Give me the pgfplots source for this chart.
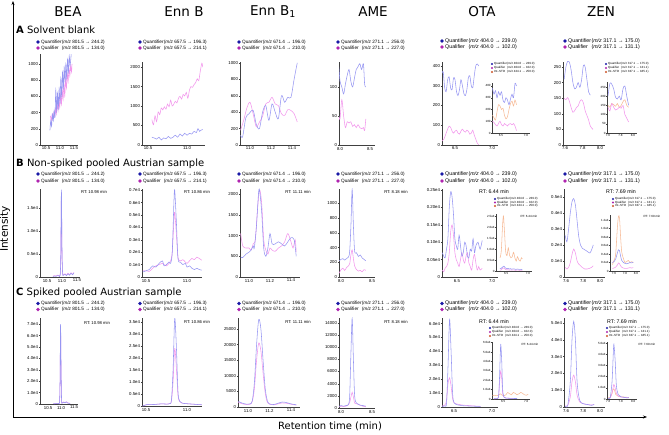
\documentclass[border=0pt]{standalone}
\usepackage{pgfplots}
\pgfplotsset{compat=1.18}
\usepackage{fontspec}
\setmainfont{Liberation Sans}
\newfontfamily\dejavu{DejaVu Sans}
\usetikzlibrary{arrows.meta}
\definecolor{colQline}{RGB}{150,150,242}
\definecolor{colLline}{RGB}{242,150,236}
\definecolor{colIline}{RGB}{246,186,150}
\definecolor{colQdot}{RGB}{25,25,165}
\definecolor{colLdot}{RGB}{175,35,175}
\definecolor{colIdot}{RGB}{205,85,40}
\newcommand\lgf{\fontsize{4.7}{5}\selectfont}
\newcommand\lgfb{\fontsize{5.3}{6}\selectfont}
\newcommand\ilgf{\fontsize{3}{3.2}\selectfont}
\newcommand\rtf{\fontsize{4.2}{5}\selectfont}
\newcommand\legtwo[6][\lgf]{%
  \fill[colQdot] (#2,#3) circle (1.8pt);
  \fill[colLdot] (#2,#4) circle (1.8pt);
  \node[anchor=west,inner sep=0,font=#1] at (#2+3,#3) {\makebox[4.4em][l]{Quantifier}(\textit{m/z} #5)};
  \node[anchor=west,inner sep=0,font=#1] at (#2+3,#4) {\makebox[4.4em][l]{Qualifier}(\textit{m/z} #6)};}
\newcommand\legthree[7]{%
  \fill[colQdot] (#1,#2) circle (1.1pt);
  \fill[colLdot] (#1,#3) circle (1.1pt);
  \fill[colIdot] (#1,#4) circle (1.1pt);
  \node[anchor=west,inner sep=0,font=\ilgf] at (#1+1.8,#2) {\makebox[4.4em][l]{Quantifier}(\textit{m/z} #5)};
  \node[anchor=west,inner sep=0,font=\ilgf] at (#1+1.8,#3) {\makebox[4.4em][l]{Qualifier}(\textit{m/z} #6)};
  \node[anchor=west,inner sep=0,font=\ilgf] at (#1+1.8,#4) {\makebox[4.4em][l]{Int.-STD}(\textit{m/z} #7)};}
\pgfplotsset{
 chrom/.style={scale only axis, anchor=south west, enlargelimits=false,
   axis x line*=bottom, axis y line*=left,
   axis line style={black!75, line width=0.4pt},
   tick style={black!75, line width=0.3pt},
   major tick length=1.2pt, tick align=outside,
   ticklabel style={font=\fontsize{4.3}{4.5}\selectfont, inner sep=0.6pt},
   /pgf/number format/assume math mode=true,
   /pgf/number format/1000 sep={},
   scaled ticks=false,
   xticklabel style={/pgf/number format/.cd, fixed, fixed zerofill, precision=1},
   clip=true},
 inset/.style={chrom, ticklabel style={font=\fontsize{3}{3.2}\selectfont, inner sep=0.4pt}, major tick length=0.8pt},
 Q/.style={colQline, line width=0.55pt, smooth, tension=0.5},
 L/.style={colLline, line width=0.55pt, smooth, tension=0.5},
 I/.style={colIline, line width=0.55pt, smooth, tension=0.5},
}
\begin{document}
\begin{tikzpicture}[x=1pt,y=1pt]
\useasboundingbox (0,0) rectangle (669,434);
% frame
\draw[line width=0.7pt,-{Stealth[length=4pt,width=3pt]}] (13,17) -- (13,433);
\draw[line width=0.7pt,-{Stealth[length=4pt,width=3pt]}] (13,17) -- (647,17);
\node[rotate=90,font=\dejavu\fontsize{10.5}{11}\selectfont] at (5,205) {Intensity};
\node[font=\dejavu\fontsize{10}{11}\selectfont] at (330,8) {Retention time (min)};
% titles
\node[font=\dejavu\fontsize{13.5}{14}\selectfont] at (68,422) {BEA};
\node[font=\dejavu\fontsize{13.5}{14}\selectfont] at (184,422) {Enn B};
\node[font=\dejavu\fontsize{13.5}{14}\selectfont] at (273,422) {Enn B\textsubscript{1}};
\node[font=\dejavu\fontsize{13.5}{14}\selectfont] at (373,422) {AME};
\node[font=\dejavu\fontsize{13.5}{14}\selectfont] at (482,422) {OTA};
\node[font=\dejavu\fontsize{13.5}{14}\selectfont] at (601,422) {ZEN};
% row labels
\node[anchor=west,inner sep=0,font=\dejavu\fontsize{10}{11}\selectfont] at (16,404) {\textbf{A} Solvent blank};
\node[anchor=west,inner sep=0,font=\dejavu\fontsize{10}{11}\selectfont] at (16,270) {\textbf{B} Non-spiked pooled Austrian sample};
\node[anchor=west,inner sep=0,font=\dejavu\fontsize{10}{11}\selectfont] at (16,141) {\textbf{C} Spiked pooled Austrian sample};
% legends row A
\legtwo{38}{392}{386}{801.5 → 244.2}{801.5 → 134.0}
\legtwo{140}{392}{386}{657.5 → 196.3}{657.5 → 214.1}
\legtwo{239}{392}{386}{671.4 → 196.0}{671.4 → 210.0}
\legtwo{338}{392}{386}{271.1 → 256.0}{271.1 → 227.0}
\legtwo[\lgfb]{442}{393}{387}{404.0 → 239.0}{404.0 → 102.0}
\legtwo[\lgfb]{565}{393}{387}{317.1 → 175.0}{317.1 → 131.1}
\legthree{492}{370}{366}{362}{404.0 → 239.0}{404.0 → 102.0}{424.1 → 250.0}
\legthree{606}{370}{366}{362}{317.1 → 175.0}{317.1 → 131.1}{337.1 → 185.1}
% legends row B
\legtwo{38}{260}{253}{801.5 → 244.2}{801.5 → 134.0}
\legtwo{140}{260}{253}{657.5 → 196.3}{657.5 → 214.1}
\legtwo{239}{260}{253}{671.4 → 196.0}{671.4 → 210.0}
\legtwo{338}{260}{253}{271.1 → 256.0}{271.1 → 227.0}
\legtwo[\lgfb]{442}{260}{253}{404.0 → 239.0}{404.0 → 102.0}
\legtwo[\lgfb]{565}{260}{253}{317.1 → 175.0}{317.1 → 131.1}
\legthree{495}{235}{231.5}{228}{404.0 → 239.0}{404.0 → 102.0}{424.1 → 250.0}
\legthree{613}{235}{231.5}{228}{317.1 → 175.0}{317.1 → 131.1}{337.1 → 185.1}
% legends row C
\legtwo{38}{130.5}{124.5}{801.5 → 244.2}{801.5 → 134.0}
\legtwo{140}{130.5}{124.5}{657.5 → 196.3}{657.5 → 214.1}
\legtwo{239}{130.5}{124.5}{671.4 → 196.0}{671.4 → 210.0}
\legtwo{338}{130.5}{124.5}{271.1 → 256.0}{271.1 → 227.0}
\legtwo[\lgfb]{442}{130.5}{124.5}{404.0 → 239.0}{404.0 → 102.0}
\legtwo[\lgfb]{565}{130.5}{124.5}{317.1 → 175.0}{317.1 → 131.1}
\legthree{490}{106}{102}{98}{404.0 → 239.0}{404.0 → 102.0}{424.1 → 250.0}
\legthree{607}{106}{102}{98}{317.1 → 175.0}{317.1 → 131.1}{337.1 → 185.1}
% RT labels
\node[font=\rtf] at (94,242) {RT: 10.98 min};
\node[font=\rtf] at (197,242) {RT: 10.86 min};
\node[font=\rtf] at (298,242) {RT: 11.11 min};
\node[font=\rtf] at (396,242) {RT: 8.18 min};
\node[font=\fontsize{5.3}{6}\selectfont] at (494,242) {RT: 6.44 min};
\node[font=\fontsize{5.3}{6}\selectfont] at (621,242) {RT: 7.69 min};
\node[font=\ilgf] at (529,218) {RT: 6.44 min};
\node[font=\ilgf] at (652,218) {RT: 7.69 min};
\node[font=\rtf] at (97,111) {RT: 10.98 min};
\node[font=\rtf] at (197,112) {RT: 10.86 min};
\node[font=\rtf] at (298,112) {RT: 11.11 min};
\node[font=\rtf] at (396,112) {RT: 8.18 min};
\node[font=\fontsize{5.3}{6}\selectfont] at (494,112) {RT: 6.44 min};
\node[font=\fontsize{5.3}{6}\selectfont] at (622,112) {RT: 7.69 min};
\node[font=\ilgf] at (530,90) {RT: 6.44 min};
\node[font=\ilgf] at (647,90) {RT: 7.69 min};

%================ ROW A ================
\begin{axis}[chrom, at={(40pt,289pt)}, width=38pt, height=91pt, xmin=10.286, xmax=11.643, ymin=0, ymax=1123, xtick={10.5,11,11.5}, ytick={0,200,400,600,800,1000}]
\addplot[L] coordinates {(10.66,360)(10.69,300)(10.72,380)(10.75,320)(10.78,400)(10.81,350)(10.84,450)(10.87,380)(10.90,520)(10.93,420)(10.96,560)(10.99,460)(11.02,620)(11.05,500)(11.08,680)(11.11,560)(11.14,760)(11.17,600)(11.20,820)(11.23,700)(11.26,880)(11.29,780)(11.32,950)(11.35,850)(11.38,980)(11.41,900)(11.43,1000)};
\addplot[Q] coordinates {(10.64,180)(10.67,300)(10.70,230)(10.73,380)(10.76,300)(10.79,420)(10.82,340)(10.85,680)(10.88,420)(10.91,640)(10.94,450)(10.97,700)(11.00,520)(11.03,820)(11.06,600)(11.09,900)(11.12,700)(11.15,960)(11.18,780)(11.21,1000)(11.24,820)(11.27,1060)(11.30,900)(11.33,1100)(11.36,980)(11.40,1120)};
\end{axis}
\begin{axis}[chrom, at={(142pt,289pt)}, width=63pt, height=83pt, xmin=10.423, xmax=11.23, ymin=0, ymax=2130, xtick={10.5,11.0}, ytick={0,500,1000,1500,2000}]
\addplot[L] coordinates {(10.55,650)(10.57,520)(10.59,750)(10.61,600)(10.63,850)(10.65,780)(10.67,950)(10.69,900)(10.71,980)(10.73,920)(10.75,1050)(10.77,980)(10.79,1150)(10.81,1000)(10.83,1050)(10.85,1120)(10.87,1080)(10.89,1200)(10.91,1250)(10.93,1180)(10.95,1300)(10.97,1260)(10.99,1350)(11.01,1200)(11.03,1400)(11.05,1500)(11.07,1480)(11.09,1550)(11.11,1600)(11.13,1700)(11.15,1650)(11.17,1900)(11.19,2100)(11.20,2000)};
\addplot[Q] coordinates {(10.55,200)(10.58,180)(10.61,150)(10.64,200)(10.67,130)(10.70,180)(10.73,160)(10.76,220)(10.79,170)(10.82,200)(10.85,250)(10.88,200)(10.91,280)(10.94,230)(10.97,300)(11.00,250)(11.03,300)(11.06,280)(11.09,350)(11.12,320)(11.14,420)(11.16,350)(11.18,380)(11.20,400)};
\end{axis}
\begin{axis}[chrom, at={(240pt,289pt)}, width=60pt, height=83pt, xmin=10.905, xmax=11.476, ymin=0, ymax=1010, xtick={11.0,11.2,11.4}, ytick={0,200,400,600,800,1000}]
\addplot[L] coordinates {(10.91,180)(10.94,300)(10.97,450)(11.00,520)(11.03,380)(11.06,220)(11.09,280)(11.12,350)(11.15,500)(11.18,520)(11.21,580)(11.24,500)(11.27,480)(11.30,380)(11.33,360)(11.36,430)(11.39,420)(11.42,380)(11.45,280)};
\addplot[Q] coordinates {(10.91,120)(10.93,100)(10.96,330)(10.99,380)(11.03,420)(11.06,250)(11.09,200)(11.12,400)(11.15,480)(11.18,300)(11.21,500)(11.24,400)(11.27,320)(11.30,600)(11.33,520)(11.36,580)(11.39,580)(11.42,800)(11.45,1000)};
\end{axis}
\begin{axis}[chrom, at={(339pt,289pt)}, width=36pt, height=83pt, xmin=7.983, xmax=8.583, ymin=0, ymax=143, xtick={8.0,8.5}, ytick={0,50,100}]
\addplot[L] coordinates {(7.98,50)(8.00,45)(8.03,78)(8.06,50)(8.09,30)(8.12,40)(8.15,38)(8.18,40)(8.21,32)(8.24,35)(8.27,30)(8.30,35)(8.33,30)(8.36,28)(8.39,30)(8.41,25)(8.43,45)};
\addplot[Q] coordinates {(7.98,135)(8.00,110)(8.03,100)(8.06,88)(8.09,105)(8.12,120)(8.15,130)(8.18,110)(8.21,100)(8.24,115)(8.27,130)(8.30,135)(8.33,140)(8.36,130)(8.39,140)(8.41,105)(8.43,100)};
\end{axis}
\begin{axis}[chrom, at={(442pt,289pt)}, width=56pt, height=83pt, xmin=6.324, xmax=7.081, ymin=0, ymax=420, xtick={6.5,7.0}, ytick={0,100,200,300,400}]
\addplot[L] coordinates {(6.32,20)(6.35,30)(6.38,60)(6.40,80)(6.42,95)(6.44,90)(6.46,70)(6.48,60)(6.50,70)(6.52,75)(6.54,60)(6.56,55)(6.58,70)(6.60,80)(6.62,70)(6.64,65)(6.66,75)(6.68,70)(6.70,55)(6.72,60)(6.74,75)(6.76,50)(6.78,30)(6.80,10)(6.82,2)};
\addplot[Q] coordinates {(6.32,360)(6.34,370)(6.36,290)(6.38,270)(6.40,330)(6.42,345)(6.44,290)(6.46,280)(6.48,340)(6.50,330)(6.52,270)(6.54,250)(6.56,280)(6.58,330)(6.60,300)(6.62,260)(6.64,250)(6.66,280)(6.68,340)(6.70,350)(6.72,300)(6.74,290)(6.76,350)(6.78,400)(6.80,410)(6.82,400)};
\end{axis}
\begin{axis}[inset, at={(492pt,301pt)}, width=38pt, height=50pt, xmin=6.32, xmax=7.08, ymin=0, ymax=425, xtick={6.5,7.0}, ytick={0,100,200,300,400}]
\addplot[I] coordinates {(6.33,150)(6.36,130)(6.39,110)(6.42,180)(6.45,240)(6.48,230)(6.51,200)(6.54,210)(6.57,150)(6.60,120)(6.63,140)(6.66,200)(6.69,250)(6.72,270)(6.75,230)(6.78,280)(6.81,240)};
\addplot[L] coordinates {(6.33,100)(6.36,90)(6.39,70)(6.42,60)(6.45,80)(6.48,100)(6.51,70)(6.54,60)(6.57,80)(6.60,70)(6.63,60)(6.66,75)(6.69,80)(6.72,70)(6.75,80)(6.78,60)(6.81,20)};
\addplot[Q] coordinates {(6.33,380)(6.36,330)(6.39,360)(6.42,300)(6.45,350)(6.48,320)(6.51,350)(6.54,280)(6.57,260)(6.60,300)(6.63,280)(6.66,240)(6.69,290)(6.72,330)(6.75,300)(6.78,420)(6.81,400)};
\end{axis}
\begin{axis}[chrom, at={(563pt,289pt)}, width=42pt, height=83pt, xmin=7.577, xmax=8.057, ymin=0, ymax=266, xtick={7.6,7.8,8.0}, ytick={0,50,100,150,200,250}]
\addplot[L] coordinates {(7.59,150)(7.61,145)(7.63,152)(7.65,140)(7.67,120)(7.69,105)(7.71,110)(7.73,120)(7.75,125)(7.77,140)(7.79,145)(7.81,135)(7.83,110)(7.85,95)(7.87,80)(7.89,60)(7.92,50)};
\addplot[Q] coordinates {(7.59,210)(7.61,250)(7.63,268)(7.65,265)(7.67,240)(7.69,200)(7.71,180)(7.73,185)(7.75,200)(7.77,185)(7.79,210)(7.81,255)(7.83,250)(7.85,210)(7.87,170)(7.89,160)};
\end{axis}
\begin{axis}[inset, at={(607pt,301pt)}, width=30pt, height=51pt, xmin=7.584, xmax=8.064, ymin=0, ymax=277, xtick={7.6,7.8,8.0}, ytick={0,50,100,150,200,250}]
\addplot[I] coordinates {(7.60,150)(7.63,140)(7.66,160)(7.69,155)(7.72,145)(7.75,160)(7.78,140)(7.81,150)(7.84,170)(7.87,180)(7.90,150)(7.93,140)};
\addplot[L] coordinates {(7.60,140)(7.63,120)(7.66,160)(7.69,140)(7.72,125)(7.75,130)(7.78,140)(7.81,135)(7.84,150)(7.87,100)(7.90,80)(7.93,60)};
\addplot[Q] coordinates {(7.60,200)(7.63,270)(7.66,265)(7.69,240)(7.72,195)(7.75,185)(7.78,200)(7.81,180)(7.84,240)(7.87,255)(7.90,200)(7.93,150)};
\end{axis}

%================ ROW B ================
\begin{axis}[chrom, at={(40pt,157pt)}, width=40pt, height=88pt, xmin=10.267, xmax=11.6, ymin=0, ymax=19130, xtick={10.5,11,11.5}, ytick={0,5000,10000,15000}, yticklabels={0,0.5e4,1.0e4,1.5e4}]
\addplot[L] coordinates {(10.70,200)(10.75,300)(10.80,200)(10.85,400)(10.90,300)(10.94,500)(10.96,4500)(10.98,18000)(11.00,5500)(11.02,900)(11.05,500)(11.10,700)(11.15,400)(11.20,800)(11.25,500)(11.30,900)(11.35,600)(11.40,1000)};
\addplot[Q] coordinates {(10.70,100)(10.75,200)(10.80,150)(10.85,300)(10.90,250)(10.94,400)(10.96,5000)(10.98,19000)(11.00,6000)(11.02,800)(11.05,400)(11.10,600)(11.15,300)(11.20,700)(11.25,400)(11.30,800)(11.35,500)(11.40,900)};
\end{axis}
\begin{axis}[chrom, at={(142pt,157pt)}, width=60pt, height=88pt, xmin=10.451, xmax=11.183, ymin=0, ymax=7100, xtick={10.5,11.0}, ytick={0,1000,2000,3000,4000,5000,6000,7000}, yticklabels={0,0.1e4,0.2e4,0.3e4,0.4e4,0.5e4,0.6e4,0.7e4}]
\addplot[L] coordinates {(10.46,500)(10.50,500)(10.54,450)(10.58,700)(10.62,900)(10.66,1000)(10.70,1100)(10.72,1000)(10.75,900)(10.78,1100)(10.80,1300)(10.82,2000)(10.84,4500)(10.85,5200)(10.87,3500)(10.89,1600)(10.92,1300)(10.95,1400)(10.98,1200)(11.00,1100)(11.03,1300)(11.06,1500)(11.09,1400)(11.12,1600)(11.15,1500)(11.18,1350)};
\addplot[Q] coordinates {(10.46,400)(10.50,500)(10.54,600)(10.58,900)(10.62,800)(10.66,1100)(10.70,1300)(10.72,900)(10.75,1000)(10.78,1200)(10.80,1100)(10.82,2000)(10.84,6000)(10.85,7000)(10.87,4500)(10.89,1500)(10.92,1200)(10.95,1000)(10.98,1100)(11.00,800)(11.03,900)(11.06,700)(11.09,600)(11.12,700)(11.15,600)(11.18,550)};
\end{axis}
\begin{axis}[chrom, at={(240pt,157pt)}, width=60pt, height=88pt, xmin=10.914, xmax=11.486, ymin=0, ymax=2125, xtick={11.0,11.2,11.4}, ytick={0,500,1000,1500,2000}]
\addplot[L] coordinates {(10.92,1050)(10.94,750)(10.97,700)(11.00,700)(11.02,650)(11.04,800)(11.06,900)(11.08,1600)(11.10,2100)(11.12,1800)(11.14,900)(11.16,650)(11.18,550)(11.20,700)(11.22,650)(11.25,620)(11.28,700)(11.31,750)(11.34,850)(11.37,1050)(11.40,850)(11.42,700)(11.44,900)(11.45,600)};
\addplot[Q] coordinates {(10.92,480)(10.94,470)(10.97,550)(11.00,600)(11.02,650)(11.04,750)(11.05,700)(11.07,1200)(11.09,2000)(11.10,2100)(11.12,1600)(11.14,700)(11.16,500)(11.18,700)(11.20,1050)(11.22,800)(11.25,800)(11.28,850)(11.31,800)(11.34,750)(11.37,850)(11.40,950)(11.43,900)(11.45,500)};
\end{axis}
\begin{axis}[chrom, at={(339pt,157pt)}, width=36pt, height=88pt, xmin=7.968, xmax=8.548, ymin=0, ymax=1197, xtick={8.0,8.5}, ytick={0,200,400,600,800,1000}]
\addplot[L] coordinates {(7.97,50)(8.00,100)(8.03,120)(8.06,90)(8.09,130)(8.12,150)(8.14,180)(8.16,300)(8.18,370)(8.20,250)(8.22,150)(8.25,100)(8.28,80)(8.31,90)(8.34,70)(8.37,100)(8.40,90)};
\addplot[Q] coordinates {(7.97,220)(8.00,240)(8.03,250)(8.06,230)(8.09,250)(8.12,270)(8.14,350)(8.16,700)(8.18,1190)(8.20,700)(8.22,350)(8.25,330)(8.28,280)(8.31,300)(8.34,260)(8.37,240)(8.40,220)};
\end{axis}
\begin{axis}[chrom, at={(442pt,157pt)}, width=56pt, height=88pt, xmin=6.286, xmax=7.086, ymin=0, ymax=2530, xtick={6.5,7.0}, ytick={0,500,1000,1500,2000,2500}, yticklabels={0,0.05e4,0.10e4,0.15e4,0.20e4,0.25e4}]
\addplot[L] coordinates {(6.29,200)(6.31,150)(6.33,250)(6.35,300)(6.37,400)(6.39,700)(6.41,1300)(6.43,1500)(6.45,1200)(6.47,700)(6.49,500)(6.51,400)(6.53,300)(6.55,500)(6.57,700)(6.59,500)(6.61,400)(6.63,600)(6.65,700)(6.67,400)(6.69,300)(6.71,200)(6.73,500)(6.75,650)(6.77,400)(6.79,200)(6.81,300)(6.83,200)(6.86,250)};
\addplot[Q] coordinates {(6.29,700)(6.31,600)(6.33,550)(6.35,800)(6.37,1100)(6.39,2000)(6.41,2450)(6.43,2300)(6.45,1800)(6.47,1100)(6.49,900)(6.51,800)(6.53,1200)(6.55,900)(6.57,600)(6.59,700)(6.61,1000)(6.63,900)(6.65,600)(6.67,550)(6.69,800)(6.71,750)(6.73,1100)(6.75,700)(6.77,900)(6.80,1000)(6.83,800)(6.86,1050)};
\end{axis}
\begin{axis}[inset, at={(496pt,163pt)}, width=36pt, height=57pt, xmin=6.27, xmax=7.09, ymin=0, ymax=25900, xtick={6.5,7.0}, ytick={0,5000,10000,15000,20000,25000}, yticklabels={0,0.5e4,1.0e4,1.5e4,2.0e4,2.5e4}]
\addplot[I] coordinates {(6.36,6000)(6.39,9000)(6.42,21000)(6.44,25000)(6.46,19000)(6.49,9000)(6.52,7000)(6.55,10500)(6.58,7000)(6.61,6000)(6.64,6500)(6.67,8500)(6.70,6000)(6.73,4500)(6.76,6500)(6.79,5000)(6.82,4500)(6.85,6000)(6.87,5500)};
\addplot[L] coordinates {(6.36,400)(6.39,500)(6.42,1200)(6.45,1400)(6.48,800)(6.51,500)(6.54,600)(6.57,400)(6.60,500)(6.63,400)(6.66,500)(6.69,400)(6.72,300)(6.75,500)(6.78,400)(6.81,300)(6.84,400)(6.87,300)};
\addplot[Q] coordinates {(6.36,1000)(6.39,1200)(6.42,1800)(6.45,2200)(6.48,1500)(6.51,1000)(6.54,1200)(6.57,900)(6.60,1100)(6.63,800)(6.66,1000)(6.69,900)(6.72,700)(6.75,900)(6.78,800)(6.81,700)(6.84,800)(6.87,600)};
\end{axis}
\begin{axis}[chrom, at={(564pt,157pt)}, width=41pt, height=88pt, xmin=7.576, xmax=8.058, ymin=0, ymax=5500, xtick={7.6,7.8,8.0}, ytick={0,1000,2000,3000,4000,5000}, yticklabels={0,0.1e4,0.2e4,0.3e4,0.4e4,0.5e4}]
\addplot[L] coordinates {(7.59,600)(7.61,500)(7.63,600)(7.65,900)(7.67,1400)(7.69,1750)(7.71,1500)(7.73,1000)(7.75,800)(7.77,700)(7.79,600)(7.82,500)(7.85,500)(7.88,550)(7.90,600)(7.92,700)};
\addplot[Q] coordinates {(7.59,2600)(7.61,2200)(7.63,3000)(7.65,4000)(7.67,4700)(7.69,4900)(7.71,4500)(7.73,3500)(7.75,2500)(7.77,2000)(7.79,1800)(7.82,1700)(7.85,1600)(7.88,1500)(7.90,1700)(7.92,2000)};
\end{axis}
\begin{axis}[inset, at={(610pt,163pt)}, width=30pt, height=56pt, xmin=7.527, xmax=8.073, ymin=0, ymax=13200, xtick={7.6,7.8,8.0}, ytick={0,2000,4000,6000,8000,10000,12000}, yticklabels={0,0.2e4,0.4e4,0.6e4,0.8e4,1.0e4,1.2e4}]
\addplot[I] coordinates {(7.57,1500)(7.60,2500)(7.63,4000)(7.66,10000)(7.68,12800)(7.70,12500)(7.72,8000)(7.74,4500)(7.77,3000)(7.80,2000)(7.83,2200)(7.86,2500)(7.89,2000)(7.92,2200)(7.95,2000)};
\addplot[L] coordinates {(7.57,600)(7.60,700)(7.63,900)(7.66,1400)(7.68,1900)(7.70,1700)(7.72,1200)(7.74,900)(7.77,700)(7.80,600)(7.83,600)(7.86,700)(7.89,800)(7.92,700)(7.95,800)};
\addplot[Q] coordinates {(7.57,2000)(7.60,2200)(7.63,2800)(7.66,4200)(7.68,5000)(7.70,4800)(7.72,3500)(7.74,2500)(7.77,2000)(7.80,1800)(7.83,1700)(7.86,1800)(7.89,2000)(7.92,1900)(7.95,2100)};
\end{axis}

%================ ROW C ================
\begin{axis}[chrom, at={(40pt,30pt)}, width=38pt, height=86pt, xmin=10.19, xmax=11.65, ymin=0, ymax=75400, xtick={10.5,11,11.5}, ytick={0,10000,20000,30000,40000,50000,60000,70000}, yticklabels={0,1.0e4,2.0e4,3.0e4,4.0e4,5.0e4,6.0e4,7.0e4}]
\addplot[L] coordinates {(10.70,400)(10.75,300)(10.80,500)(10.85,400)(10.90,600)(10.94,1500)(10.96,19000)(10.98,67000)(11.00,29000)(11.02,3000)(11.05,1200)(11.10,1800)(11.15,1200)(11.20,2000)(11.25,1000)(11.30,800)(11.35,600)};
\addplot[Q] coordinates {(10.70,300)(10.75,200)(10.80,400)(10.85,300)(10.90,500)(10.94,1500)(10.96,20000)(10.98,70000)(11.00,30000)(11.02,3000)(11.05,1000)(11.10,1500)(11.15,1000)(11.20,1800)(11.25,800)(11.30,600)(11.35,400)};
\end{axis}
\begin{axis}[chrom, at={(142pt,28pt)}, width=60pt, height=88pt, xmin=10.451, xmax=11.183, ymin=0, ymax=36700, xtick={10.5,11.0}, ytick={0,5000,10000,15000,20000,25000,30000,35000}, yticklabels={0,0.5e4,1.0e4,1.5e4,2.0e4,2.5e4,3.0e4,3.5e4}]
\addplot[L] coordinates {(10.46,0)(10.50,500)(10.55,700)(10.60,600)(10.65,800)(10.70,900)(10.75,800)(10.79,1000)(10.81,2000)(10.83,10000)(10.85,24000)(10.87,16000)(10.89,4500)(10.91,1800)(10.94,1200)(10.98,1000)(11.02,900)(11.06,800)(11.10,700)(11.14,600)(11.18,500)};
\addplot[Q] coordinates {(10.46,0)(10.50,500)(10.55,700)(10.60,600)(10.65,800)(10.70,900)(10.75,800)(10.79,1000)(10.81,2500)(10.83,15000)(10.85,36500)(10.87,25000)(10.89,6000)(10.91,2000)(10.94,1200)(10.98,1000)(11.02,900)(11.06,800)(11.10,700)(11.14,600)(11.18,500)};
\end{axis}
\begin{axis}[chrom, at={(238pt,27pt)}, width=62pt, height=89pt, xmin=10.907, xmax=11.484, ymin=0, ymax=28500, xtick={11.0,11.2,11.4}, ytick={0,5000,10000,15000,20000,25000}]
\addplot[L] coordinates {(10.91,1500)(10.95,1000)(10.99,800)(11.02,900)(11.04,1800)(11.06,6000)(11.08,15000)(11.10,20500)(11.12,18000)(11.14,11000)(11.16,4500)(11.18,1500)(11.20,900)(11.24,700)(11.28,1000)(11.32,1300)(11.36,1200)(11.40,900)(11.45,600)};
\addplot[Q] coordinates {(10.91,1800)(10.95,1200)(10.99,900)(11.02,1000)(11.04,2000)(11.06,8000)(11.08,20000)(11.10,28000)(11.12,25000)(11.14,15000)(11.16,6000)(11.18,2000)(11.20,1000)(11.24,800)(11.28,1200)(11.32,1600)(11.36,1400)(11.40,1000)(11.45,700)};
\end{axis}
\begin{axis}[chrom, at={(339pt,26pt)}, width=36pt, height=90pt, xmin=7.968, xmax=8.548, ymin=0, ymax=14800, xtick={8.0,8.5}, ytick={0,2000,4000,6000,8000,10000,12000,14000}]
\addplot[L] coordinates {(7.97,200)(8.00,300)(8.04,250)(8.08,300)(8.12,500)(8.14,900)(8.16,1800)(8.18,2600)(8.20,1800)(8.22,800)(8.25,700)(8.30,500)(8.35,300)(8.40,200)};
\addplot[Q] coordinates {(7.97,300)(8.00,400)(8.04,300)(8.08,400)(8.12,600)(8.14,2000)(8.16,9000)(8.18,14700)(8.20,8000)(8.22,2000)(8.25,800)(8.30,500)(8.35,400)(8.40,300)};
\end{axis}
\begin{axis}[chrom, at={(442pt,27pt)}, width=56pt, height=89pt, xmin=6.34, xmax=7.08, ymin=0, ymax=64000, xtick={6.5,7.0}, ytick={0,10000,20000,30000,40000,50000,60000}, yticklabels={0,1.0e4,2.0e4,3.0e4,4.0e4,5.0e4,6.0e4}]
\addplot[L] coordinates {(6.34,800)(6.38,1500)(6.40,5000)(6.42,17000)(6.44,21000)(6.46,15000)(6.48,6000)(6.50,3000)(6.55,2000)(6.60,1500)(6.65,1200)(6.70,1000)(6.75,800)(6.80,600)(6.85,500)};
\addplot[Q] coordinates {(6.34,500)(6.38,800)(6.40,3000)(6.42,30000)(6.44,63000)(6.46,40000)(6.48,10000)(6.50,3000)(6.55,1500)(6.60,1000)(6.65,800)(6.70,700)(6.75,600)(6.80,500)(6.85,400)};
\end{axis}
\begin{axis}[inset, at={(492pt,35pt)}, width=38pt, height=57pt, xmin=6.26, xmax=7.08, ymin=0, ymax=60600, xtick={6.5,7.0}, ytick={0,10000,20000,30000,40000,50000,60000}, yticklabels={0,1.0e4,2.0e4,3.0e4,4.0e4,5.0e4,6.0e4}]
\addplot[I] coordinates {(6.27,3500)(6.32,4000)(6.36,3500)(6.40,4000)(6.44,5500)(6.48,4000)(6.52,3500)(6.56,4500)(6.60,7000)(6.64,5500)(6.68,4500)(6.72,7000)(6.76,6000)(6.80,4500)(6.84,5500)(6.88,7000)(6.92,6000)(6.96,4500)(7.00,4000)(7.04,5000)};
\addplot[L] coordinates {(6.30,300)(6.36,400)(6.40,2000)(6.42,15000)(6.44,27000)(6.45,30000)(6.47,22000)(6.49,6000)(6.52,2000)(6.56,1000)(6.62,800)(6.70,700)(6.80,600)};
\addplot[Q] coordinates {(6.30,300)(6.36,500)(6.40,2000)(6.42,20000)(6.44,50000)(6.45,58000)(6.47,40000)(6.49,10000)(6.52,2000)(6.56,1000)(6.62,800)(6.70,600)(6.80,500)};
\end{axis}
\begin{axis}[chrom, at={(564pt,27pt)}, width=41pt, height=89pt, xmin=7.576, xmax=8.058, ymin=0, ymax=53000, xtick={7.6,7.8,8.0}, ytick={0,10000,20000,30000,40000,50000}, yticklabels={0,1.0e4,2.0e4,3.0e4,4.0e4,5.0e4}]
\addplot[L] coordinates {(7.59,600)(7.62,1000)(7.65,6000)(7.67,15000)(7.69,19000)(7.71,15000)(7.73,7000)(7.76,3000)(7.80,2000)(7.85,1500)(7.90,1200)(7.93,1500)};
\addplot[Q] coordinates {(7.59,500)(7.62,1000)(7.65,15000)(7.67,40000)(7.69,51000)(7.71,40000)(7.73,15000)(7.76,4000)(7.80,2000)(7.85,1500)(7.90,1000)(7.93,1500)};
\end{axis}
\begin{axis}[inset, at={(607pt,35pt)}, width=30pt, height=57pt, xmin=7.58, xmax=8.06, ymin=0, ymax=51000, xtick={7.6,7.8,8.0}, ytick={0,10000,20000,30000,40000,50000}, yticklabels={0,1.0e4,2.0e4,3.0e4,4.0e4,5.0e4}]
\addplot[I] coordinates {(7.60,1000)(7.63,1500)(7.66,5000)(7.68,9000)(7.70,8000)(7.72,4000)(7.76,2500)(7.80,2000)(7.85,1800)(7.90,1500)(7.93,1500)};
\addplot[L] coordinates {(7.60,600)(7.63,1000)(7.66,5000)(7.68,11000)(7.69,13000)(7.71,10000)(7.73,5000)(7.76,2500)(7.80,1800)(7.85,1500)(7.90,1200)(7.93,1300)};
\addplot[Q] coordinates {(7.60,500)(7.63,1000)(7.66,15000)(7.68,40000)(7.69,49000)(7.71,35000)(7.73,12000)(7.76,4000)(7.80,2000)(7.85,1500)(7.90,1000)(7.93,1200)};
\end{axis}
\end{tikzpicture}
\end{document}
